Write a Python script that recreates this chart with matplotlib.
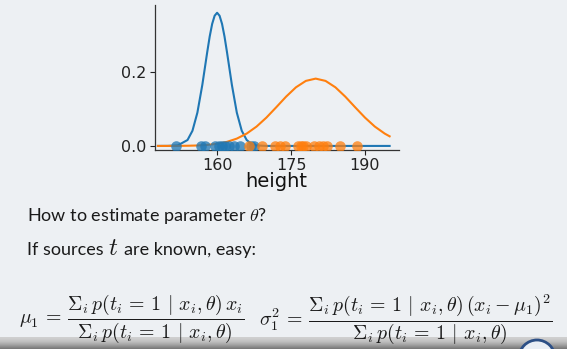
import numpy as np
import matplotlib.pyplot as plt
from matplotlib.patches import Ellipse
plt.switch_backend('agg')

plt.rcParams['mathtext.fontset'] = 'cm'

# curves
blue_x = [148, 150, 152, 154, 155, 156, 157, 158, 158.5, 159, 159.5, 160, 160.5,
          161, 161.5, 162, 163, 164, 165, 166, 167, 168, 170, 175, 180, 185, 190, 195]
blue_y = [0.0, 0.0001, 0.0014, 0.016, 0.041, 0.090, 0.165, 0.254, 0.296, 0.330, 0.352, 0.360, 0.352,
          0.330, 0.296, 0.254, 0.165, 0.090, 0.041, 0.016, 0.005, 0.0014, 0.0, 0.0, 0.0, 0.0, 0.0, 0.0]
orange_x = [148, 150, 152, 154, 156, 158, 160, 162, 164, 166, 168, 170, 172, 174, 176, 178,
            180, 182, 184, 186, 188, 190, 192, 194, 195]
orange_y = [0.0, 0.0001, 0.0002, 0.0005, 0.0012, 0.0027, 0.0057, 0.011, 0.0198, 0.0334, 0.0523,
            0.0766, 0.1046, 0.1333, 0.1585, 0.1758, 0.182, 0.1758, 0.1585, 0.1333, 0.1046, 0.0766,
            0.0523, 0.0334, 0.026]

# sample heights on the axis
blue_pts = [151.7, 156.7, 157.5, 159.6, 160.3, 161.0, 161.7, 162.5, 163.5, 164.7, 166.8, 167.4]
orange_pts = [166.5, 169.2, 171.7, 172.7, 173.8, 176.5, 177.0, 177.5, 178.0, 179.7, 180.6,
              181.5, 182.3, 185.0, 188.3]

xticks = [160, 175, 190]
yticks = [0.0, 0.2]

W, H = 567, 349
bg = '#edf0f3'
fig = plt.figure(figsize=(W / 100, H / 100), dpi=100, facecolor=bg)

# soft shadow at the bottom of the slide
strip = fig.add_axes([0, 0, 1, 12 / H])
strip.imshow(np.linspace(0, 1, 30).reshape(-1, 1) ** 1.5, aspect='auto', cmap='Greys',
             vmin=-0.9, vmax=2.2, extent=[0, 1, 0, 1], origin='upper')
strip.axis('off')
strip.set_zorder(-1)
fig.patches.append(Ellipse((537 / W, -9 / H), 36 / W, 36 / H, transform=fig.transFigure,
                           fc='#e9eef5', ec='#2c4f86', lw=2, zorder=1))

ax = fig.add_axes([154.5 / W, 1 - 150 / H, 244 / W, 145 / H])
ax.set_facecolor('none')

ax.plot(blue_x, blue_y, color='#1f77b4', lw=1.5)
ax.plot(orange_x, orange_y, color='#ff7f0e', lw=1.5)
ax.scatter(blue_pts, np.zeros(len(blue_pts)), s=58, color='#1f77b4', alpha=0.75, lw=0, zorder=3)
ax.scatter(orange_pts, np.zeros(len(orange_pts)), s=58, color='#ff7f0e', alpha=0.75, lw=0, zorder=3)

ax.set_xlim(147.3, 196.8)
ax.set_ylim(-0.011, 0.381)
ax.set_xticks(xticks)
ax.set_yticks(yticks)
ax.set_yticklabels(['0.0', '0.2'])
ax.tick_params(labelsize=11.5, colors='#222222', length=3.5, width=0.8, pad=2.5)
ax.set_xlabel('height', fontsize=14, color='#111111', labelpad=-1)
for s in ['top', 'right']:
    ax.spines[s].set_visible(False)
for s in ['left', 'bottom']:
    ax.spines[s].set_color('#333333')
    ax.spines[s].set_linewidth(0.9)

def px(x, y):
    return x / W, 1 - y / H

body = dict(family=['Lato', 'DejaVu Sans'], fontsize=13, color='#1a1a1a', va='baseline')
fig.text(*px(27, 221), r'How to estimate parameter $\theta$?', **body)

r = fig.canvas.get_renderer()
t1 = fig.text(*px(27, 255), 'If sources', **body)
x1 = t1.get_window_extent(r).x1
t2 = fig.text(*px(x1 + 4, 255), r'$t$', fontsize=18, color='#1a1a1a', va='baseline')
x2 = t2.get_window_extent(r).x1
fig.text(*px(x2 + 6, 255), 'are known, easy:', **body)

cond = r'\Sigma_i\, p(t_i \,=\, 1 \,\mid\, x_i, \theta)'
fig.text(*px(19, 319),
         r'$\mu_1 \,=\, \dfrac{' + cond + r'\, x_i}{' + cond + '}$',
         fontsize=14.3, color='#1a1a1a', va='center')
fig.text(*px(259, 319),
         r'$\sigma_1^2 \,=\, \dfrac{' + cond + r'\, (x_i - \mu_1)^2}{' + cond + '}$',
         fontsize=14.3, color='#1a1a1a', va='center')

fig.savefig('out.png', dpi=100, facecolor=fig.get_facecolor())
